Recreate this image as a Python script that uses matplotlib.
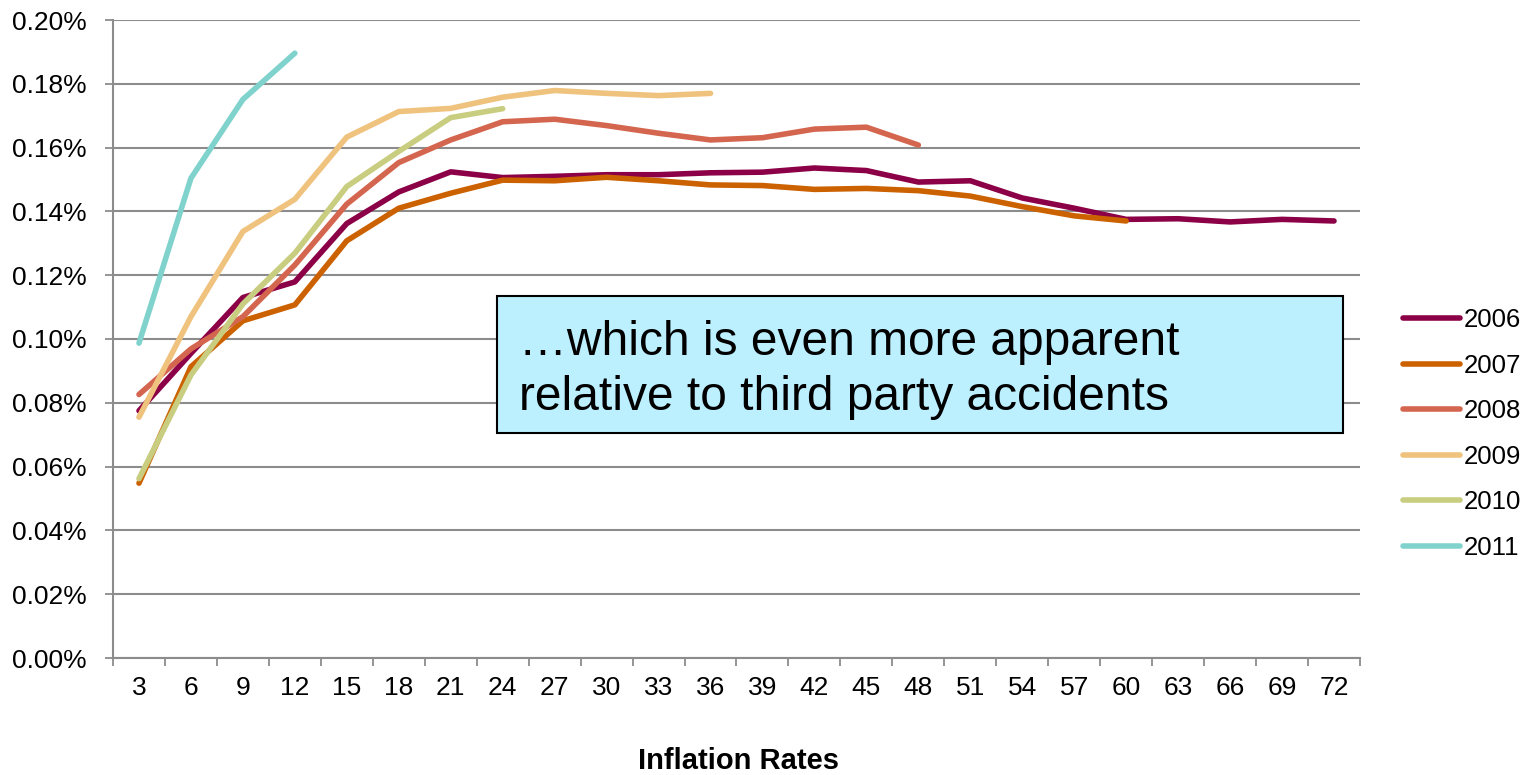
import numpy as np
import matplotlib
matplotlib.use("Agg")
import matplotlib.pyplot as plt
from matplotlib.ticker import FuncFormatter, FixedLocator

plt.rcParams['font.family'] = ['Liberation Sans', 'DejaVu Sans']

# Development periods (months) on the x axis
periods = [3, 6, 9, 12, 15, 18, 21, 24, 27, 30, 33, 36, 39, 42, 45, 48,
           51, 54, 57, 60, 63, 66, 69, 72]

nan = np.nan
# Ratios in percent, one list per accident year
y2006 = [0.0775, 0.0955, 0.1130, 0.1179, 0.1362, 0.1461, 0.1524, 0.1506,
         0.1510, 0.1515, 0.1515, 0.1521, 0.1523, 0.1536, 0.1528, 0.1492,
         0.1496, 0.1442, 0.1410, 0.1375, 0.1377, 0.1367, 0.1375, 0.1370]
y2007 = [0.0548, 0.0913, 0.1057, 0.1107, 0.1308, 0.1410, 0.1457, 0.1498,
         0.1496, 0.1507, 0.1496, 0.1483, 0.1481, 0.1469, 0.1472, 0.1465,
         0.1448, 0.1415, 0.1386, 0.1370, nan, nan, nan, nan]
y2008 = [0.0826, 0.0969, 0.1070, 0.1232, 0.1423, 0.1553, 0.1624, 0.1681,
         0.1689, 0.1669, 0.1645, 0.1624, 0.1631, 0.1658, 0.1664, 0.1608,
         nan, nan, nan, nan, nan, nan, nan, nan]
y2009 = [0.0755, 0.1070, 0.1337, 0.1438, 0.1633, 0.1713, 0.1723, 0.1758,
         0.1779, 0.1770, 0.1763, 0.1770,
         nan, nan, nan, nan, nan, nan, nan, nan, nan, nan, nan, nan]
y2010 = [0.0562, 0.0887, 0.1110, 0.1269, 0.1478, 0.1588, 0.1694, 0.1722,
         nan, nan, nan, nan, nan, nan, nan, nan, nan, nan, nan, nan,
         nan, nan, nan, nan]
y2011 = [0.0987, 0.1504, 0.1751, 0.1896,
         nan, nan, nan, nan, nan, nan, nan, nan, nan, nan, nan, nan,
         nan, nan, nan, nan, nan, nan, nan, nan]

series = {
    "2006": (y2006, "#8B0046"),
    "2007": (y2007, "#CC6100"),
    "2008": (y2008, "#D4664F"),
    "2009": (y2009, "#EFC27E"),
    "2010": (y2010, "#C8CD80"),
    "2011": (y2011, "#80D2CD"),
}

fig = plt.figure(figsize=(15.34, 7.75), dpi=100)
ax = fig.add_axes([113 / 1534, 1 - 658 / 775, (1360 - 113) / 1534, (658 - 20) / 775])

x = np.arange(len(periods))
for name, (vals, col) in series.items():
    ax.plot(x, vals, color=col, lw=4.0, solid_capstyle='round',
            solid_joinstyle='round', label=name, zorder=3)

grid_col = "#8C8C8C"
ax.set_ylim(0, 0.20)
ax.set_xlim(-0.5, len(periods) - 0.5)
ax.set_yticks(np.arange(0, 0.2001, 0.02))
ax.yaxis.set_major_formatter(FuncFormatter(lambda v, p: f"{v:.2f}%"))
ax.grid(axis='y', color=grid_col, lw=1.5, zorder=0)
ax.set_axisbelow(True)

ax.set_xticks(x)
ax.set_xticklabels([str(p) for p in periods])
ax.xaxis.set_minor_locator(FixedLocator(np.arange(-0.5, len(periods), 1.0)))
ax.tick_params(axis='x', which='major', length=0, pad=13, labelsize=19)
ax.tick_params(axis='x', which='minor', length=6, width=1.3, color=grid_col)
ax.tick_params(axis='y', length=6, width=1.3, color=grid_col, pad=13, labelsize=19)

for s in ['top', 'right']:
    ax.spines[s].set_visible(False)
for s in ['left', 'bottom']:
    ax.spines[s].set_color(grid_col)
    ax.spines[s].set_linewidth(1.5)

fig.text(739 / 1534, 1 - 761 / 775, "Inflation Rates", ha='center', va='center',
         fontsize=21, fontweight='bold')

leg = fig.legend(loc='upper left', bbox_to_anchor=(1403 / 1534, 1 - 308 / 775),
                 frameon=False, fontsize=18.5, handlelength=2.2, handletextpad=0.18,
                 labelspacing=0.84, borderaxespad=0, borderpad=0)

ax.text((519 - 113) / 1247, (658 - 370) / 638,
        "\u2026which is even more apparent\nrelative to third party accidents",
        transform=ax.transAxes, fontsize=34.5, ha='left', va='center',
        linespacing=1.3, zorder=5)
box = plt.Rectangle((497 / 1534, 1 - 433 / 775), (1343 - 497) / 1534, (433 - 296) / 775,
                    transform=fig.transFigure, facecolor="#BDF0FF", edgecolor="black",
                    lw=1.5, zorder=4)
ax.add_patch(box)
box.set_clip_on(False)

fig.savefig("out.png", dpi=100)
